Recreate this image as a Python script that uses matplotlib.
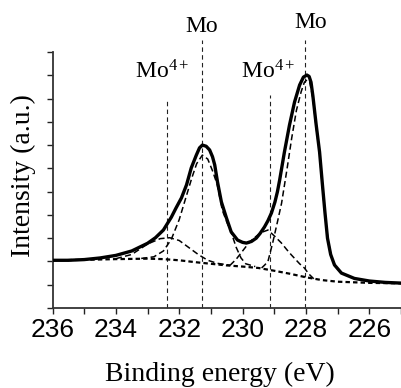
import matplotlib
matplotlib.use("Agg")
import matplotlib.pyplot as plt

# ---- data (binding energy in eV, intensity in arbitrary units) ----
total_E = [236.0, 235.5, 235.0, 234.5, 234.0, 233.5, 233.0, 232.75, 232.5, 232.25,
           232.1, 231.93, 231.77, 231.62, 231.46, 231.36, 231.27, 231.15, 231.04, 230.95,
           230.88, 230.79, 230.67, 230.51, 230.36, 230.16, 230.0, 229.88, 229.72, 229.57,
           229.45, 229.31, 229.2, 229.09, 228.98, 228.9, 228.83, 228.68, 228.52, 228.36,
           228.2, 228.08, 227.97, 227.9, 227.84, 227.78, 227.68, 227.57, 227.48, 227.4,
           227.32, 227.22, 227.1, 226.88, 226.47, 226.0, 225.5, 225.0]
total_I = [2.05, 2.05, 2.08, 2.15, 2.26, 2.45, 2.78, 3.02, 3.35, 3.9,
           4.3, 4.73, 5.29, 6.02, 6.57, 6.88, 7.0, 6.95, 6.79, 6.5,
           6.15, 5.4, 4.56, 3.87, 3.27, 2.92, 2.82, 2.79, 2.86, 3.0,
           3.2, 3.48, 3.75, 4.08, 4.55, 5.0, 5.5, 6.7, 7.86, 8.85,
           9.58, 9.92, 10.01, 9.95, 9.7, 9.1, 7.9, 6.7, 5.3, 4.1,
           3.0, 2.3, 1.85, 1.5, 1.27, 1.16, 1.1, 1.07]

bg_E = [236.0, 235.0, 234.0, 233.0, 232.5, 232.0, 231.5, 231.0, 230.5, 230.0,
        229.5, 229.0, 228.5, 228.0, 227.5, 227.0, 226.0, 225.0]
bg_I = [2.05, 2.07, 2.1, 2.12, 2.1, 2.05, 1.97, 1.9, 1.83, 1.78,
        1.72, 1.6, 1.47, 1.32, 1.2, 1.13, 1.08, 1.06]

mo4_a_E = [234.0, 233.5, 233.0, 232.6, 232.3, 232.0, 231.7, 231.4, 231.1, 230.8, 230.4]
mo4_a_I = [2.12, 2.3, 2.75, 2.98, 3.02, 2.9, 2.6, 2.3, 2.05, 1.92, 1.84]

mo0_a_E = [233.2, 232.8, 232.5, 232.25, 232.0, 231.8, 231.6, 231.45, 231.27, 231.1,
           230.95, 230.8, 230.64, 230.5, 230.36, 230.2, 230.05, 229.9, 229.6]
mo0_a_I = [2.13, 2.2, 2.45, 2.95, 3.8, 4.7, 5.6, 6.2, 6.57, 6.4,
           5.9, 5.3, 4.2, 3.7, 3.25, 2.6, 2.15, 1.9, 1.78]

mo4_b_E = [230.4, 230.2, 230.0, 229.8, 229.6, 229.4, 229.2, 229.0, 228.78, 228.6,
           228.46, 228.2, 228.05, 227.9, 227.75]
mo4_b_I = [1.83, 2.1, 2.45, 2.8, 3.05, 3.25, 3.35, 3.1, 2.8, 2.5,
           2.28, 1.9, 1.72, 1.45, 1.25]

mo0_b_E = [229.4, 229.3, 229.2, 229.05, 228.9, 228.77, 228.6, 228.45, 228.3, 228.15,
           228.05, 227.97, 227.88, 227.78, 227.68, 227.57, 227.48, 227.4, 227.3, 227.2,
           227.05, 226.85]
mo0_b_I = [1.72, 1.85, 2.0, 2.8, 3.7, 4.5, 5.95, 7.3, 8.5, 9.3,
           9.7, 9.8, 9.7, 9.0, 7.8, 6.6, 5.2, 4.0, 2.9, 2.2,
           1.75, 1.45]

line_E = [232.39, 231.29, 229.15, 228.02]
line_top = [9.02, 11.52, 9.15, 11.52]

label_text = ["Mo$^{4+}$", "Mo", "Mo$^{4+}$", "Mo"]
label_E = [232.55, 231.29, 229.21, 227.86]
label_I = [9.88, 11.86, 9.88, 12.03]

xticks_major = [236, 234, 232, 230, 228, 226]

# ---- figure ----
plt.rcParams['mathtext.fontset'] = 'custom'
plt.rcParams['mathtext.rm'] = 'Liberation Serif'
plt.rcParams['mathtext.it'] = 'Liberation Serif:italic'

fig = plt.figure(figsize=(4.01, 3.88), dpi=100)
ax = fig.add_axes([52.5 / 401, 80 / 388, 1 - 52.5 / 401, 256 / 388])

ax.plot(bg_E, bg_I, color='black', lw=1.6, dashes=(2.0, 1.4), zorder=2)
for E, I in [(mo4_a_E, mo4_a_I), (mo0_a_E, mo0_a_I), (mo4_b_E, mo4_b_I), (mo0_b_E, mo0_b_I)]:
    ax.plot(E, I, color='black', lw=1.1, dashes=(4.0, 2.2), zorder=2)
ax.plot(total_E, total_I, color='black', lw=2.4, zorder=4,
        solid_joinstyle='round', solid_capstyle='round')

for e, t in zip(line_E, line_top):
    ax.plot([e, e], [0, t], color='#222222', lw=0.8, dashes=(4.0, 3.0), clip_on=False, zorder=1)

for t, e, i in zip(label_text, label_E, label_I):
    ax.text(e, i, t, ha='center', va='baseline', fontsize=17,
            family='Liberation Serif', clip_on=False)

ax.set_xlim(236, 225)
ax.set_ylim(0, 11)
ax.set_xticks(xticks_major)
ax.set_xticks(list(range(225, 237)), minor=True)
ax.set_xticklabels([str(v) for v in xticks_major], family='Liberation Sans', fontsize=19)
ax.set_yticks(list(range(0, 12)))
ax.set_yticklabels([])
ax.tick_params(axis='x', which='both', direction='out', length=4, width=1, pad=3, colors='#222222')
ax.tick_params(axis='y', which='both', direction='out', length=4.5, width=1, colors='#222222')
for lab in ax.get_xticklabels():
    lab.set_color('black')

for s in ['top', 'right']:
    ax.spines[s].set_visible(False)
for s in ['left', 'bottom']:
    ax.spines[s].set_linewidth(1.3)
    ax.spines[s].set_color('#333333')

fig.text(220 / 401, 7 / 388, "Binding energy (eV)", ha='center', va='baseline',
         fontsize=20, family='Liberation Serif')
fig.text(23.5 / 401, 1 - 176 / 388, "Intensity (a.u.)", ha='center', va='center',
         rotation=90, fontsize=20, family='Liberation Serif')

fig.savefig("out.png", dpi=100)
